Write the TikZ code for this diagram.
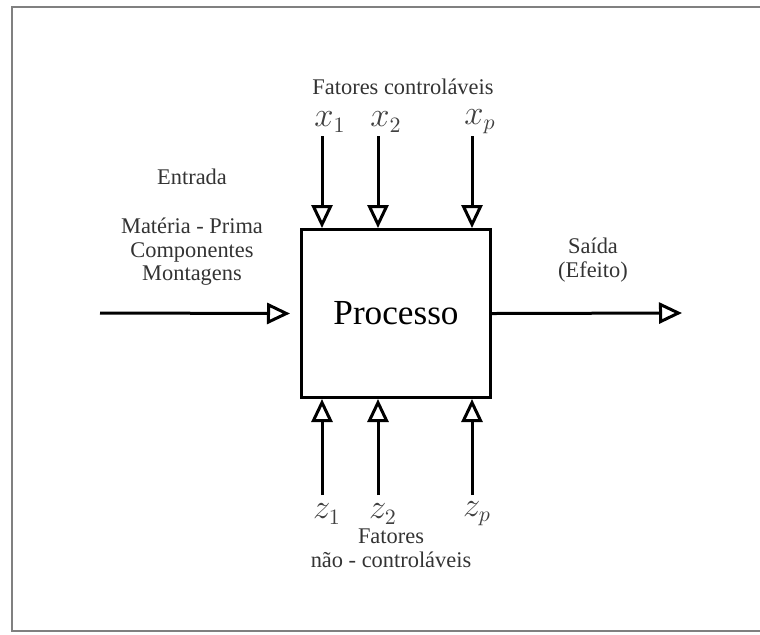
\documentclass[tikz,border=0pt]{standalone}
\usepackage{fontspec}
\setmainfont{Liberation Serif}
\usetikzlibrary{arrows.meta}

\tikzset{
  fluxo/.style={line width=1.5pt,-{Triangle[open,width=10.5pt,length=11.5pt,line width=1.5pt]}},
  rotulo/.style={text=black!80,font=\fontsize{11.2}{11.8}\selectfont,align=center},
  var/.style={text=black!75,font=\fontsize{16}{16}\selectfont,inner sep=0pt},
}

\begin{document}
\begin{tikzpicture}[x=0.5pt,y=-0.5pt]
        \useasboundingbox (0,0) rectangle (760,634);
        \draw[gray,line width=0.8pt] (760,7) -- (12,7) -- (12,631) -- (760,631); % moldura

        \node[draw,line width=1.5pt,minimum width=94.5pt,minimum height=84pt,inner sep=0pt,
              font=\fontsize{17.6}{18}\selectfont] (proc) at (396,313.5) {Processo};

        \foreach \x/\lab in {322/x_1,378/x_2,472/x_p} % fatores controlaveis
        {
        \coordinate (top\x) at (\x,136);
        \node[var] (lx\x) at (\x+8,122) {$\lab$};
        \draw[fluxo] (top\x) -- (top\x |- proc.north);
        }
        \foreach \x/\lab in {322/z_1,378/z_2,472/z_p} % fatores nao controlaveis
        {
        \coordinate (bot\x) at (\x,495);
        \node[var] (lz\x) at (\x+5,514) {$\lab$};
        \draw[fluxo] (bot\x) -- (bot\x |- proc.south);
        }

        \coordinate (ent) at (100,313);
        \coordinate (sai) at (682,313);
        \draw[fluxo] (ent) -- ([xshift=-5pt]proc.west);
        \draw[fluxo] (proc.east) -- (sai);

        \node[rotulo] (ctrl) at (403,87) {Fatores controláveis};
        \node[rotulo] (entrada) at (192,177) {Entrada};
        \node[rotulo] (insumos) at (192,252) {Matéria - Prima\\Componentes\\Montagens};
        \node[rotulo] (saida) at (593,260) {Saída\\(Efeito)};
        \node[rotulo] (ruido) at (391,548) {Fatores\\não - controláveis};
    \end{tikzpicture}
\end{document}
